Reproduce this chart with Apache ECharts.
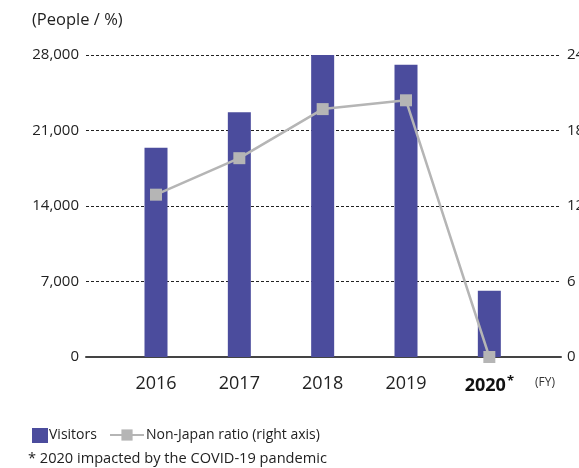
<!DOCTYPE html>
<html>
<head>
<meta charset="utf-8">
<script src="https://cdn.jsdelivr.net/npm/echarts@6/dist/echarts.min.js"></script>
<style>
  html, body { margin: 0; padding: 0; background: #fff; }
  #chart { width: 579px; height: 468px; }
</style>
</head>
<body>
<div id="chart"></div>
<script>
// data
const years = ['2016', '2017', '2018', '2019', '2020']
const visitors = [19400, 22700, 28000, 27100, 6150]
const nonJapanRatio = [12.9, 15.8, 19.7, 20.4, 0]
const leftTicks = [0, 7000, 14000, 21000, 28000]
const rightTicks = [0, 6, 12, 18, 24]

const barColor = '#4b4c9d'
const lineColor = '#b5b5b5'
const font = '"Open Sans", "Noto Sans", sans-serif'

const chart = echarts.init(document.getElementById('chart'))

const xPos = years.map((_, i) => i)

const option = {
  animation: false,
  textStyle: { fontFamily: font },
  grid: { left: 86, right: 18, top: 55, bottom: 111, containLabel: false, outerBoundsMode: 'none' },
  title: {
    text: '(People / %)',
    left: 27,
    top: 7,
    textStyle: { fontSize: 16.5, fontWeight: 'normal', color: '#222', fontFamily: font }
  },
  legend: [
    {
      data: ['Visitors'],
      left: 27,
      top: 423,
      itemWidth: 16,
      itemHeight: 15,
      itemGap: 4,
      icon: 'rect',
      textStyle: { fontSize: 14, color: '#222', fontFamily: font, padding: [0, 0, 0, -4] }
    },
    {
      data: ['Non-Japan ratio (right axis)'],
      left: 104,
      top: 423,
      itemWidth: 34,
      itemHeight: 14,
      textStyle: { fontSize: 14, color: '#222', fontFamily: font, padding: [0, 0, 0, -3] }
    }
  ],
  graphic: [
    {
      type: 'text',
      left: 28,
      top: 451,
      style: { text: '* 2020 impacted by the COVID-19 pandemic', fill: '#222', font: '14.6px ' + font }
    },
    {
      type: 'text',
      left: 535,
      top: 377,
      style: { text: '(FY)', fill: '#333', font: '12px ' + font }
    }
  ],
  xAxis: {
    type: 'value',
    min: -0.84,
    max: 4.86,
    splitLine: { show: false },
    axisTick: { show: false },
    axisLine: { show: true, onZero: false, lineStyle: { color: '#444', width: 2 } },
    axisLabel: {
      customValues: xPos,
      margin: 18,
      fontSize: 18,
      color: '#222',
      fontFamily: font,
      formatter: v => {
        const y = years[Math.round(v)]
        return y === '2020' ? '{b|2020}{s|*}' : y
      },
      rich: {
        b: { fontSize: 18, fontWeight: 'bold', color: '#111', fontFamily: font },
        s: { fontSize: 13, fontWeight: 'bold', color: '#111', fontFamily: font, padding: [0, 0, 8, 1] }
      }
    }
  },
  yAxis: [
    {
      type: 'value',
      min: leftTicks[0],
      max: leftTicks[leftTicks.length - 1],
      interval: leftTicks[1] - leftTicks[0],
      axisLine: { show: false },
      axisTick: { show: false },
      axisLabel: {
        margin: 7,
        fontSize: 15,
        color: '#222',
        fontFamily: font,
        formatter: v => v.toLocaleString('en-US')
      },
      splitLine: {
        show: true,
        lineStyle: { color: '#222', width: 1, type: [3, 2] }
      }
    },
    {
      type: 'value',
      min: rightTicks[0],
      max: rightTicks[rightTicks.length - 1],
      interval: rightTicks[1] - rightTicks[0],
      axisLine: { show: false },
      axisTick: { show: false },
      splitLine: { show: false },
      axisLabel: { margin: 6, fontSize: 15, color: '#222', fontFamily: font }
    }
  ],
  series: [
    {
      name: 'Visitors',
      type: 'bar',
      yAxisIndex: 0,
      barWidth: 23,
      itemStyle: { color: barColor },
      data: visitors.map((v, i) => [xPos[i], v])
    },
    {
      name: 'Non-Japan ratio (right axis)',
      type: 'line',
      yAxisIndex: 1,
      symbol: 'rect',
      symbolSize: 12,
      clip: false,
      lineStyle: { color: lineColor, width: 2.5 },
      itemStyle: { color: lineColor },
      data: nonJapanRatio.map((v, i) => [xPos[i], v])
    }
  ]
}

chart.setOption(option)
</script>
</body>
</html>
